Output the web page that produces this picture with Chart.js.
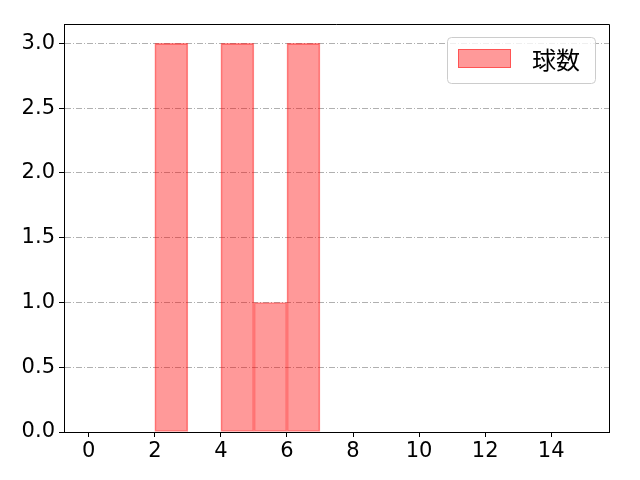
<!DOCTYPE html>
<html>
<head>
<meta charset="utf-8">
<script src="https://cdn.jsdelivr.net/npm/chart.js@4"></script>
<style>
  html,body{margin:0;padding:0;background:#fff}
  #wrap{width:640px;height:480px}
</style>
</head>
<body>
<div id="wrap"><canvas id="c" width="640" height="480"></canvas></div>
<script>
// histogram bins (left edges 0..14, width 1) and counts
const binStarts = [0,1,2,3,4,5,6,7,8,9,10,11,12,13,14];
const counts    = [0,0,3,0,3,1,3,0,0,0,0,0,0,0,0];
const xTicks = [0,2,4,6,8,10,12,14];
const yTicks = [0,0.5,1,1.5,2,2.5,3];
const seriesLabel = '球数';

const TICKFONT = "'DejaVu Sans', sans-serif";
const CJKFONT = "'Noto Sans CJK JP', sans-serif";
const FILL = 'rgba(255,0,0,0.4)', EDGE = 'rgba(255,0,0,0.45)';

// top/right frame + legend box, matplotlib style
const frameAndLegend = {
  id:'frameAndLegend',
  afterDraw(ch){
    const {ctx, chartArea:a} = ch;
    ctx.save();
    ctx.strokeStyle='#000'; ctx.lineWidth=1;
    ctx.beginPath();
    ctx.moveTo(a.left, a.top+0.5); ctx.lineTo(a.right+0.5, a.top+0.5); ctx.lineTo(a.right+0.5, a.bottom);
    ctx.stroke();
    // legend
    const w=148, h=46, x=a.right-14-w, y=a.top+13;
    ctx.beginPath(); ctx.roundRect(x+0.5,y+0.5,w,h,4);
    ctx.fillStyle='rgba(255,255,255,0.8)'; ctx.fill();
    ctx.strokeStyle='#cccccc'; ctx.stroke();
    ctx.fillStyle=FILL; ctx.fillRect(x+11,y+12,53,19);
    ctx.strokeStyle=EDGE; ctx.strokeRect(x+11.5,y+12.5,52,18);
    ctx.fillStyle='#000'; ctx.font='24px '+CJKFONT; ctx.textBaseline='middle';
    ctx.fillText(seriesLabel, x+85, y+23);
    ctx.restore();
  }
};

new Chart(document.getElementById('c'), {
  type:'bar',
  data:{datasets:[{
    label:seriesLabel,
    data:binStarts.map((b,i)=>({x:b+0.5, y:counts[i]})),
    backgroundColor:FILL, borderColor:EDGE, borderWidth:1, borderSkipped:false,
    barPercentage:1, categoryPercentage:1
  }]},
  options:{
    responsive:false, animation:false,
    layout:{padding:{top:24,right:31,left:0,bottom:0}},
    plugins:{legend:{display:false}, tooltip:{enabled:false}},
    scales:{
      x:{type:'linear', min:-0.75, max:15.75, offset:false,
        afterBuildTicks:s=>{s.ticks=xTicks.map(v=>({value:v}));},
        afterFit:s=>{s.height=48;},
        ticks:{color:'#000', font:{family:TICKFONT,size:21}, padding:2, maxRotation:0, autoSkip:false},
        grid:{offset:false, drawOnChartArea:false, drawTicks:true, tickLength:5, tickColor:'#000'},
        border:{color:'#000', width:1}
      },
      y:{min:0, max:3.15,
        afterBuildTicks:s=>{s.ticks=yTicks.map(v=>({value:v}));},
        afterFit:s=>{s.width=64;},
        ticks:{color:'#000', font:{family:TICKFONT,size:21}, padding:4, callback:v=>v.toFixed(1)},
        grid:{color:'#b0b0b0', lineWidth:1, tickLength:5, tickColor:'#000', tickBorderDash:[]},
        border:{color:'#000', width:1, dash:[6,2,1,2]}
      }
    }
  },
  plugins:[frameAndLegend]
});
</script>
</body>
</html>
